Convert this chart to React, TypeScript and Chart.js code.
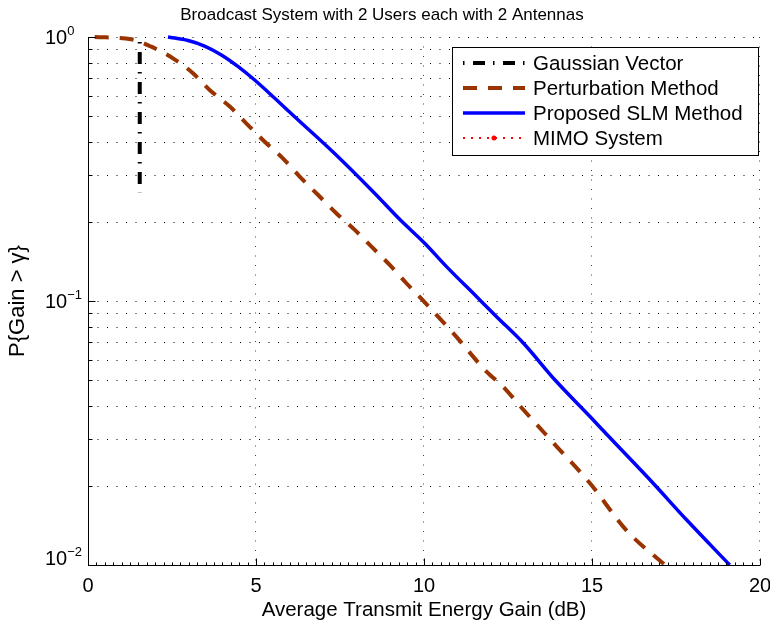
import { useEffect, useRef } from 'react';
import { Chart, registerables } from 'chart.js';

Chart.register(...registerables);

const FONT = '"Liberation Sans", Arial, Helvetica, sans-serif';

const chartTitle = 'Broadcast System with 2 Users each with 2 Antennas';
const xAxisTitle = 'Average Transmit Energy Gain (dB)';
const yAxisTitle = 'P{Gain > γ}';

const xMajorTicks = [0, 5, 10, 15, 20];
const xMinorStep = 0.25;
const yDecadeExponents = [0, -1, -2];

const seriesNames = ['Gaussian Vector', 'Perturbation Method', 'Proposed SLM Method', 'MIMO System'];

// Gaussian vector bound (vertical marker)
const gaussianGain = [1.54, 1.54];
const gaussianProb = [0.957, 0.258];

// Perturbation method CCDF
const perturbationGain = [0.2, 1.29, 1.885, 2.53, 3.125, 3.62, 4.22, 4.71, 5.26, 5.8, 6.3, 6.85, 7.39, 7.94, 8.43, 8.98, 9.47, 9.92, 10.92, 11.86, 12.36, 12.86, 13.95, 14.94, 16.03, 17.17];
const perturbationProb = [1.0, 0.98, 0.919, 0.83, 0.729, 0.63, 0.545, 0.471, 0.401, 0.347, 0.296, 0.252, 0.215, 0.186, 0.161, 0.137, 0.117, 0.102, 0.0743, 0.054, 0.0473, 0.04, 0.0281, 0.0204, 0.0135, 0.01];

// Proposed SLM method CCDF
const slmGain = [2.38, 2.98, 3.47, 3.97, 4.47, 4.96, 5.56, 6.15, 7.34, 8.53, 9.29, 10.02, 10.67, 11.56, 12.16, 12.96, 13.9, 14.94, 15.55, 16.82, 17.82, 19.1];
const slmProb = [1.0, 0.97, 0.924, 0.855, 0.772, 0.687, 0.586, 0.499, 0.362, 0.256, 0.203, 0.1655, 0.135, 0.104, 0.0872, 0.0692, 0.0502, 0.0365, 0.0302, 0.0204, 0.0148, 0.01];

// MIMO system curve lies outside the plotted range
const mimoGain: number[] = [];
const mimoProb: number[] = [];

const toPoints = (xs: number[], ys: number[]) => xs.map((x, i) => ({ x, y: ys[i] }));

const decorations = {
  id: 'matlabAxes',
  beforeDatasetsDraw(chart: any) {
    const { ctx, chartArea: a, scales } = chart;
    const xs = scales.x;
    const ys = scales.y;
    ctx.save();
    ctx.lineWidth = 1;
    ctx.setLineDash([1, 8.5]);
    // horizontal dotted grid at every log subdivision
    ctx.strokeStyle = '#000';
    for (const e of yDecadeExponents) {
      for (let m = 1; m <= 9; m++) {
        const v = m * Math.pow(10, e);
        if (v > 1.0001 || v < 0.00999) continue;
        const py = Math.round(ys.getPixelForValue(v)) + 0.5;
        ctx.beginPath();
        ctx.moveTo(a.left, py);
        ctx.lineTo(a.right, py);
        ctx.stroke();
      }
    }
    // vertical dotted grid at major x ticks
    ctx.strokeStyle = '#444';
    for (const xv of xMajorTicks) {
      if (xv === 0) continue;
      const px = Math.round(xs.getPixelForValue(xv)) - 0.5;
      ctx.beginPath();
      ctx.moveTo(px, a.top);
      ctx.lineTo(px, a.bottom);
      ctx.stroke();
    }
    ctx.restore();
  },
  afterDatasetsDraw(chart: any) {
    const { ctx, chartArea: a, scales } = chart;
    const xs = scales.x;
    const ys = scales.y;
    ctx.save();
    ctx.setLineDash([]);
    ctx.strokeStyle = '#000';
    ctx.lineWidth = 1;

    // axis lines (left and bottom only)
    const left = Math.round(a.left) + 0.5;
    const bottom = Math.round(a.bottom) + 0.5;
    ctx.beginPath();
    ctx.moveTo(left, a.top);
    ctx.lineTo(left, bottom);
    ctx.lineTo(a.right, bottom);
    ctx.stroke();

    // x ticks pointing inward
    ctx.beginPath();
    for (let v = 0; v <= 20.0001; v += xMinorStep) {
      const px = Math.round(xs.getPixelForValue(v)) + 0.5;
      const major = Math.abs(v / 5 - Math.round(v / 5)) < 1e-6;
      ctx.moveTo(px, bottom);
      ctx.lineTo(px, bottom - (major ? 7 : 3));
    }
    ctx.stroke();

    // y ticks pointing inward
    ctx.beginPath();
    for (const e of yDecadeExponents) {
      for (let m = 1; m <= 9; m++) {
        const v = m * Math.pow(10, e);
        if (v > 1.0001 || v < 0.00999) continue;
        const py = Math.round(ys.getPixelForValue(v)) + 0.5;
        ctx.moveTo(left, py);
        ctx.lineTo(left + (m === 1 ? 7 : 4), py);
      }
    }
    ctx.stroke();

    ctx.fillStyle = '#000';
    // x tick labels
    ctx.font = `20px ${FONT}`;
    ctx.textAlign = 'center';
    ctx.textBaseline = 'alphabetic';
    for (const xv of xMajorTicks) {
      ctx.fillText(String(xv), xs.getPixelForValue(xv), 592);
    }

    // y tick labels as 10^e
    ctx.textAlign = 'left';
    for (const e of yDecadeExponents) {
      const py = ys.getPixelForValue(Math.pow(10, e));
      const base = Math.min(py + 6.5, a.bottom);
      ctx.font = `20px ${FONT}`;
      ctx.fillText('10', 45, base);
      const w = ctx.measureText('10').width;
      ctx.font = `13px ${FONT}`;
      ctx.fillText(e === 0 ? '0' : '\u2212' + Math.abs(e), 45 + w, base - 9);
    }

    // title and axis titles
    ctx.textAlign = 'center';
    ctx.font = `17px ${FONT}`;
    ctx.fillText(chartTitle, 382, 20);
    ctx.font = `20.5px ${FONT}`;
    ctx.fillText(xAxisTitle, (a.left + a.right) / 2, 616);
    ctx.save();
    ctx.translate(24, 301);
    ctx.rotate(-Math.PI / 2);
    ctx.font = `22px ${FONT}`;
    ctx.fillText(yAxisTitle, 0, 0);
    ctx.restore();

    // legend
    const bx = 452, by = 47, bw = 306, bh = 108;
    ctx.fillStyle = '#fff';
    ctx.fillRect(bx, by, bw, bh);
    ctx.strokeStyle = '#000';
    ctx.lineWidth = 1;
    ctx.strokeRect(bx + 0.5, by + 0.5, bw, bh);
    const rows = [63, 88, 113, 138];
    chart.data.datasets.forEach((ds: any, i: number) => {
      const ry = rows[i];
      ctx.save();
      ctx.strokeStyle = ds.borderColor;
      ctx.lineWidth = ds.borderWidth;
      ctx.lineCap = 'butt';
      ctx.setLineDash(ds.borderDash || []);
      ctx.beginPath();
      ctx.moveTo(463, ry);
      ctx.lineTo(525, ry);
      ctx.stroke();
      if (ds.legendMarker) {
        ctx.setLineDash([]);
        ctx.fillStyle = ds.borderColor;
        ctx.beginPath();
        ctx.arc(494, ry, 2.5, 0, Math.PI * 2);
        ctx.fill();
      }
      ctx.restore();
      ctx.fillStyle = '#000';
      ctx.textAlign = 'left';
      ctx.font = `20.5px ${FONT}`;
      ctx.fillText(ds.label, 533, ry + 7);
    });
    ctx.restore();
  },
};

export default function App() {
  const canvasRef = useRef<HTMLCanvasElement | null>(null);

  useEffect(() => {
    document.body.style.margin = '0';
    const canvas = canvasRef.current;
    if (!canvas) return;
    const chart = new Chart(canvas, {
      type: 'line',
      data: {
        datasets: [
          {
            label: seriesNames[0],
            data: toPoints(gaussianGain, gaussianProb),
            borderColor: '#000000',
            borderWidth: 4,
            borderDash: [1.5, 8.5, 12, 8],
            borderCapStyle: 'butt',
            tension: 0,
            clip: false,
          } as any,
          {
            label: seriesNames[1],
            data: toPoints(perturbationGain, perturbationProb),
            borderColor: '#993300',
            borderWidth: 4,
            borderDash: [14, 11],
            borderCapStyle: 'butt',
            cubicInterpolationMode: 'monotone',
            clip: false,
          } as any,
          {
            label: seriesNames[2],
            data: toPoints(slmGain, slmProb),
            borderColor: '#0000ff',
            borderWidth: 3.5,
            cubicInterpolationMode: 'monotone',
            clip: false,
          } as any,
          {
            label: seriesNames[3],
            data: toPoints(mimoGain, mimoProb),
            borderColor: '#ff0000',
            borderWidth: 2,
            borderDash: [2, 6],
            legendMarker: true,
          } as any,
        ],
      },
      options: {
        animation: false,
        responsive: false,
        events: [],
        layout: { padding: { left: 88, top: 37, right: 10, bottom: 61 } },
        elements: { point: { radius: 0 } },
        plugins: {
          legend: { display: false },
          title: { display: false },
          tooltip: { enabled: false },
        },
        scales: {
          x: { type: 'linear', min: 0, max: 20, display: false },
          y: { type: 'logarithmic', min: 0.01, max: 1, display: false },
        },
      },
      plugins: [decorations],
    });
    return () => chart.destroy();
  }, []);

  return (
    <div style={{ width: 770, height: 626, background: '#fff' }}>
      <canvas ref={canvasRef} width={770} height={626} style={{ display: 'block' }} />
    </div>
  );
}
